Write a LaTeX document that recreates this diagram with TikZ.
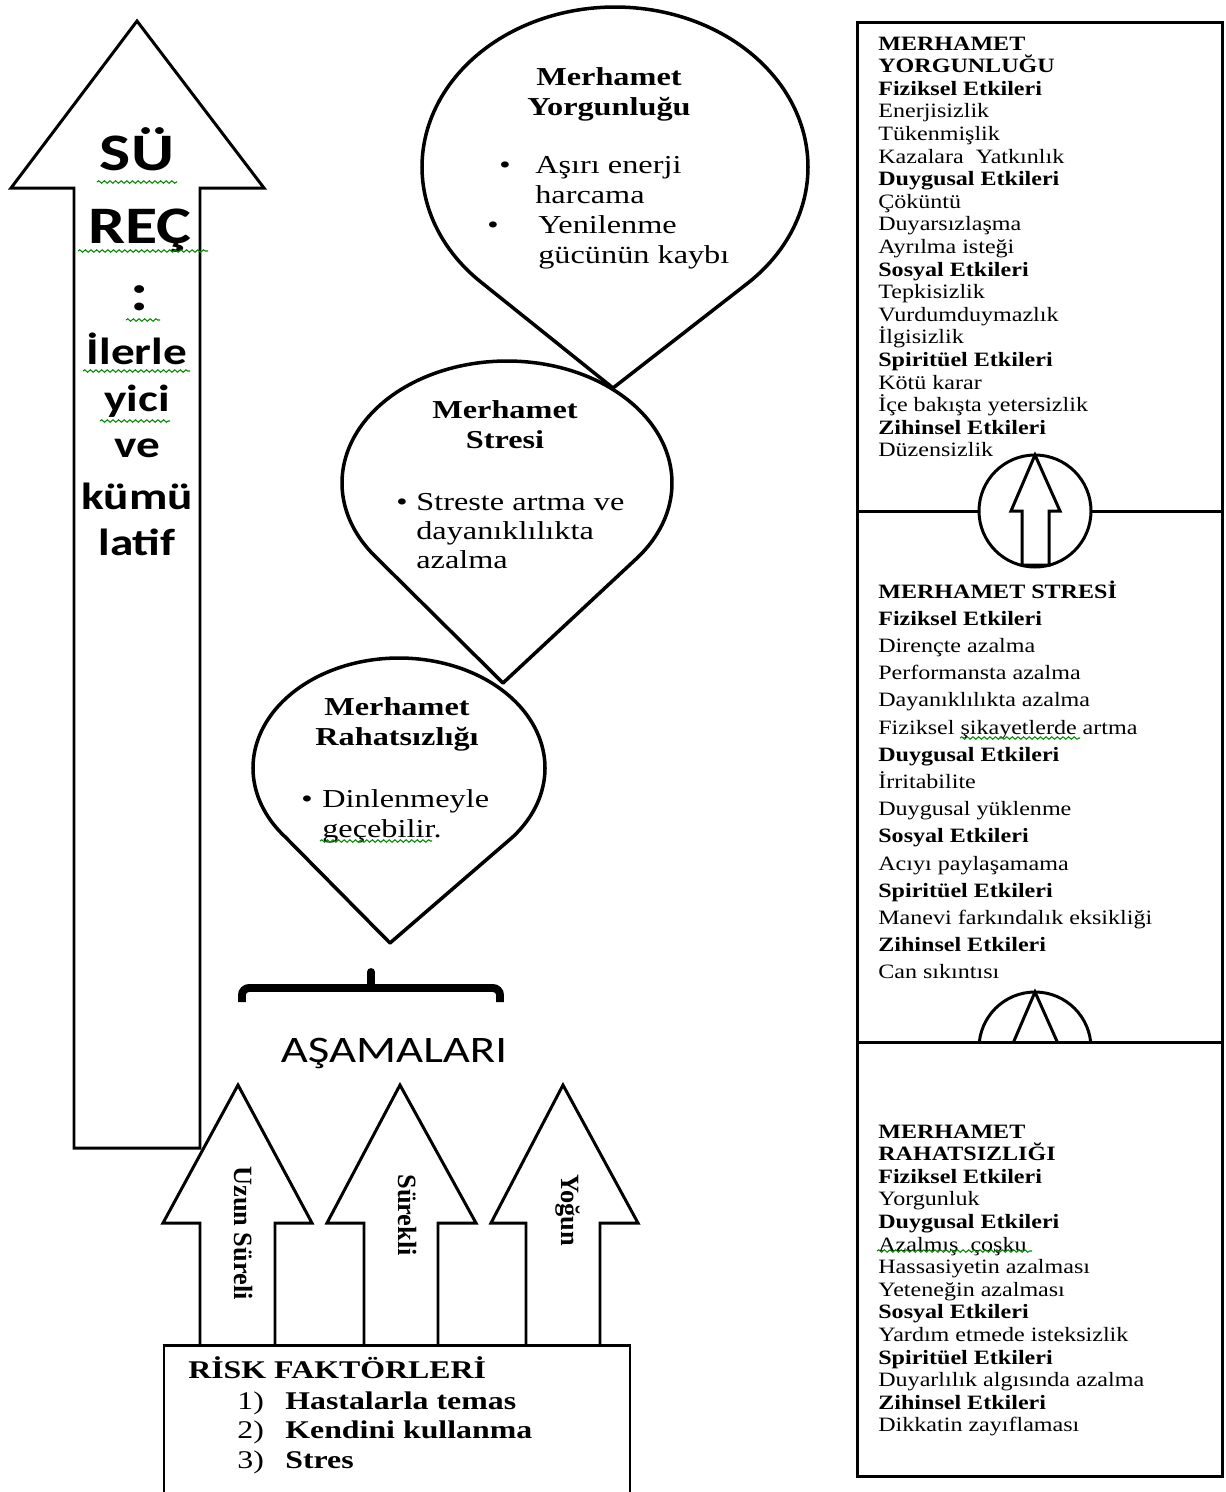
\documentclass[tikz,border=0pt]{standalone}
\usepackage{fontspec}
\setmainfont{Liberation Serif}
\newfontfamily\tnrA[FakeStretch=1.18]{Liberation Serif}
\newfontfamily\tnrB[FakeStretch=1.25]{Liberation Serif}
\newfontfamily\calA[FakeStretch=1.25]{Carlito}
\usetikzlibrary{decorations.pathmorphing}

\newcommand{\mkbubble}[6]{%
  \pgfmathsetmacro{\bubR}{asin(#4/(#6-#2))}%
  \pgfmathsetmacro{\bubA}{180-\bubR}%
  \pgfmathsetmacro{\bubB}{360+\bubR}%
  \draw[bubbleline] (#5,#6) -- plot[domain=\bubA:\bubB, samples=160] ({#1+#3*cos(\x)},{#2+#4*sin(\x)}) -- cycle;%
}

\begin{document}
\begin{tikzpicture}[x=0.02cm,y=-0.02cm,
  outl/.style={line width=1.7pt, line join=miter},
  bubbleline/.style={line width=2pt, line join=round},
  rtext/.style={anchor=base west, inner sep=0pt, font=\tnrA\fontsize{11.6}{13}\selectfont},
  btext/.style={inner sep=0pt, font=\tnrB\fontsize{14.7}{17}\selectfont},
  risktext/.style={anchor=base west, inner sep=0pt, font=\tnrB\fontsize{14.5}{17}\selectfont},
  vlabel/.style={rotate=-90, anchor=west, inner sep=0pt, font=\fontsize{15}{17}\selectfont\bfseries},
  bigtxt/.style={anchor=base, inner sep=0pt, font=\calA\bfseries\fontsize{30}{32}\selectfont},
  midtxt/.style={anchor=base, inner sep=0pt, font=\calA\bfseries\fontsize{21.5}{24}\selectfont},
  squiggle/.style={draw=green!55!black, line width=0.6pt, decorate, decoration={snake, amplitude=0.7pt, segment length=3.2pt}}
]
\useasboundingbox (0,0) rectangle (1226,1492);
\fill[white] (0,0) rectangle (1226,1492);

% ---- big left arrow ----
\draw[outl] (74,1148) -- (74,188) -- (11,188) -- (137,21) -- (264,188) -- (200,188) -- (200,1148) -- cycle;
\node[bigtxt] (s1) at (137,170) {SÜ};
\node[bigtxt] (s2) at (140,243) {REÇ};
\node[bigtxt] (s3) at (140,310) {:};
\node[midtxt] (s4) at (137,364) {İlerle};
\node[midtxt] (s5) at (137,411) {yici};
\node[midtxt] (s6) at (137,457) {ve};
\node[midtxt] (s7) at (137,509) {kümü};
\node[midtxt] (s8) at (137,555) {latif};
\draw[squiggle] (97,182) -- (177,182);
\draw[squiggle] (78,251) -- (208,251);
\draw[squiggle] (126,320) -- (160,320);
\draw[squiggle] (83,371) -- (190,371);
\draw[squiggle] (100,421) -- (170,421);

% ---- bubbles ----
\mkbubble{615}{167}{193}{160}{613}{388}
\mkbubble{507}{483}{165}{122}{503}{683}
\mkbubble{399}{768}{146}{110}{390}{943}

\node[btext, anchor=base] (b1h1) at (609,85) {\textbf{Merhamet}};
\node[btext, anchor=base] (b1h2) at (609,115) {\textbf{Yorgunluğu}};
\node[btext, anchor=base] (b1d1) at (505,173) {•};
\node[btext, anchor=base west] (b1l1) at (535,173) {Aşırı enerji};
\node[btext, anchor=base west] (b1l2) at (535,203) {harcama};
\node[btext, anchor=base] (b1d2) at (493,233) {•};
\node[btext, anchor=base west] (b1l3) at (538,233) {Yenilenme};
\node[btext, anchor=base west] (b1l4) at (538,263) {gücünün kaybı};

\node[btext, anchor=base] (b2h1) at (505,418) {\textbf{Merhamet}};
\node[btext, anchor=base] (b2h2) at (505,448) {\textbf{Stresi}};
\node[btext, anchor=base] (b2d1) at (402,510) {•};
\node[btext, anchor=base west] (b2l1) at (416,510) {Streste artma ve};
\node[btext, anchor=base west] (b2l2) at (416,539) {dayanıklılıkta};
\node[btext, anchor=base west] (b2l3) at (416,568) {azalma};

\node[btext, anchor=base] (b3h1) at (397,715) {\textbf{Merhamet}};
\node[btext, anchor=base] (b3h2) at (397,745) {\textbf{Rahatsızlığı}};
\node[btext, anchor=base] (b3d1) at (307,807) {•};
\node[btext, anchor=base west] (b3l1) at (322,807) {Dinlenmeyle};
\node[btext, anchor=base west] (b3l2) at (322,837) {geçebilir.};
\draw[squiggle] (320,841) -- (432,841);

% ---- brace ----
\draw[line width=4.5pt, rounded corners=4pt] (242,1002) -- (242,988) -- (500,988) -- (500,1002);
\draw[line width=4.5pt, line cap=round] (371,988) -- (371,972);
\node[inner sep=0pt, anchor=base, font=\calA\fontsize{21.3}{24}\selectfont] (asama) at (394,1062) {AŞAMALARI};

% ---- small arrows ----
\draw[outl, fill=white] (200,1345) -- (200,1223) -- (163,1223) -- (238,1085) -- (312,1223) -- (275,1223) -- (275,1345);
\draw[outl, fill=white] (364,1345) -- (364,1223) -- (327,1223) -- (400,1085) -- (476,1223) -- (438,1223) -- (438,1345);
\draw[outl, fill=white] (526,1345) -- (526,1223) -- (491,1223) -- (563,1085) -- (638,1223) -- (600,1223) -- (600,1345);
\node[vlabel] (la) at (243,1166) {Uzun Süreli};
\node[vlabel] (lb) at (407,1174) {Sürekli};
\node[vlabel] (lc) at (568,1174) {Yoğun};

% ---- risk box ----
\draw[outl] (164,1492) -- (164,1345) -- (630,1345) -- (630,1492);
\node[risktext] (rk0) at (188,1378) {\textbf{RİSK FAKTÖRLERİ}};
\node[risktext] (rk1n) at (237,1409) {1)};
\node[risktext] (rk1) at (285,1409) {\textbf{Hastalarla temas}};
\node[risktext] (rk2n) at (237,1438) {2)};
\node[risktext] (rk2) at (285,1438) {\textbf{Kendini kullanma}};
\node[risktext] (rk3n) at (237,1468) {3)};
\node[risktext] (rk3) at (285,1468) {\textbf{Stres}};

% ---- right column ----
\draw[outl] (857,22) rectangle (1222,511);
\draw[outl] (857,511) rectangle (1222,1042);
% connector circle 2 (partly hidden)
\draw[outl, fill=white] (1035,1048) circle[radius=56];
\draw[outl, fill=white] (1035,992) -- (1060,1048) -- (1049,1048) -- (1049,1102) -- (1022,1102) -- (1022,1048) -- (1011,1048) -- cycle;
\draw[outl, fill=white] (857,1042) rectangle (1222,1476);
% connector circle 1
\draw[outl, fill=white] (1035,511) circle[radius=56];
\draw[outl, fill=white] (1035,455) -- (1060,511) -- (1049,511) -- (1049,565) -- (1022,565) -- (1022,511) -- (1011,511) -- cycle;

\foreach \t [count=\i from 0] in {\textbf{MERHAMET}, \textbf{YORGUNLUĞU}, \textbf{Fiziksel Etkileri}, Enerjisizlik, Tükenmişlik, Kazalara~ Yatkınlık, \textbf{Duygusal Etkileri}, Çöküntü, Duyarsızlaşma, Ayrılma isteği, \textbf{Sosyal Etkileri}, Tepkisizlik, Vurdumduymazlık, İlgisizlik, \textbf{Spiritüel Etkileri}, Kötü karar, İçe bakışta yetersizlik, \textbf{Zihinsel Etkileri}, Düzensizlik}
  \node[rtext, name=ta\i] at (878,{50+22.6*\i}) {\t};

\foreach \t [count=\i from 0] in {\textbf{MERHAMET STRESİ}, \textbf{Fiziksel Etkileri}, Dirençte azalma, Performansta azalma, Dayanıklılıkta azalma, Fiziksel şikayetlerde artma, \textbf{Duygusal Etkileri}, İrritabilite, Duygusal yüklenme, \textbf{Sosyal Etkileri}, Acıyı paylaşamama, \textbf{Spiritüel Etkileri}, Manevi farkındalık eksikliği, \textbf{Zihinsel Etkileri}, Can sıkıntısı}
  \node[rtext, name=tb\i] at (878,{598+27.2*\i}) {\t};
\draw[squiggle] (960,738) -- (1080,738);

\foreach \t [count=\i from 0] in {\textbf{MERHAMET}, \textbf{RAHATSIZLIĞI}, \textbf{Fiziksel Etkileri}, Yorgunluk, \textbf{Duygusal Etkileri}, Azalmış~ çoşku, Hassasiyetin azalması, Yeteneğin azalması, \textbf{Sosyal Etkileri}, Yardım etmede isteksizlik, \textbf{Spiritüel Etkileri}, Duyarlılık algısında azalma, \textbf{Zihinsel Etkileri}, Dikkatin zayıflaması}
  \node[rtext, name=tc\i] at (878,{1138+22.6*\i}) {\t};
\draw[squiggle] (877,1251) -- (1032,1251);

\end{tikzpicture}
\end{document}
